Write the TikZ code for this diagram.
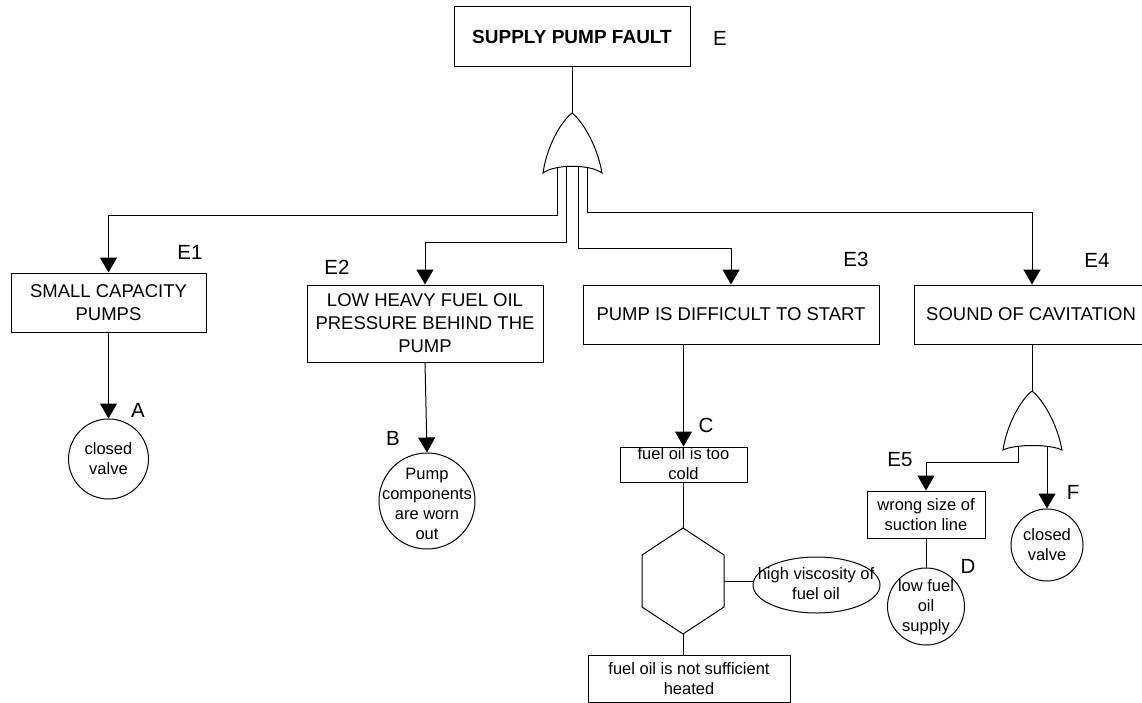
\documentclass[tikz,border=0pt]{standalone}
\usepackage{fontspec}
\setmainfont{Liberation Sans}
\usetikzlibrary{arrows.meta,shapes.geometric}
\begin{document}
\begin{tikzpicture}[x=1pt,y=-1pt, line width=1pt,
  box/.style={draw, rectangle, inner sep=0pt},
  big/.style={font=\fontsize{18.5}{23}\selectfont, align=center, inner sep=0pt},
  small/.style={font=\fontsize{16.5}{20}\selectfont, align=center, inner sep=0pt},
  lab/.style={font=\fontsize{20.5}{24}\selectfont, inner sep=0pt},
  arr/.style={-{Triangle[width=17pt,length=15pt]}},
  ring/.style={draw, circle, inner sep=0pt}]
\clip (0,0) rectangle (1142,703);

% top event
\node[box, minimum width=236pt, minimum height=60pt, font=\bfseries\fontsize{19}{23}\selectfont] (top) at (572,37) {SUPPLY PUMP FAULT};
\node[lab] (lE) at (720,38) {E};

% OR gate 1
\coordinate (g1top) at (572,113);
\draw (g1top) .. controls (565,118) and (548,140) .. (543,173)
  .. controls (555,164) and (590,164) .. (602,173)
  .. controls (596,140) and (579,118) .. (g1top);
\draw (top.south) -- (g1top);
\coordinate (g1a) at (557,167);
\coordinate (g1b) at (566,166.5);
\coordinate (g1c) at (578,166.5);
\coordinate (g1d) at (587,167);

% second-level events
\node[box, big, minimum width=195pt, minimum height=59pt] (e1) at (108.5,302.5) {SMALL CAPACITY\\PUMPS};
\node[lab] (lE1) at (190,252) {E1};
\node[box, big, minimum width=236pt, minimum height=77pt] (e2) at (425,323.5) {LOW HEAVY FUEL OIL\\PRESSURE BEHIND THE\\PUMP};
\node[lab] (lE2) at (337,267) {E2};
\node[box, big, minimum width=296pt, minimum height=59pt] (e3) at (731,314.5) {PUMP IS DIFFICULT TO START};
\node[lab] (lE3) at (856,259) {E3};
\node[box, minimum width=236pt, minimum height=59pt] (e4) at (1032,314.5) {};
\node[big] (e4t) at (1031,314.5) {SOUND OF CAVITATION};
\node[lab] (lE4) at (1097,260) {E4};

\draw[arr] (g1a) -- ++(0,49) -| (e1.north);
\draw[arr] (g1b) -- ++(0,76.5) -| (e2.north);
\draw[arr] (g1c) -- ++(0,82.5) -| (e3.north);
\draw[arr] (g1d) -- ++(0,46) -| (e4.north);

% branch E1
\node[ring, minimum size=80pt] (a) at (108.5,459) {};
\node[small] (at) at (a) {closed\\valve};
\node[lab] (lA) at (138,410) {A};
\draw[arr] (e1.south) -- (a.north);

% branch E2
\node[ring, minimum size=96pt] (b) at (427,501) {};
\node[small] (bt) at (427,504) {Pump\\components\\are worn\\out};
\node[lab] (lB) at (393,438) {B};
\draw[arr] (e2.south) -- (b.north);

% branch E3
\node[box, minimum width=127pt, minimum height=35pt] (c) at (683.5,464.5) {};
\node[small] (ct) at (683.5,464) {fuel oil is too\\cold};
\node[lab] (lC) at (706,425) {C};
\draw[arr] (c.north |- e3.south) -- (c.north);

\coordinate (h1) at (683,528);
\coordinate (h2) at (724,555);
\coordinate (h3) at (724,607);
\coordinate (h4) at (683,634);
\coordinate (h5) at (642,607);
\coordinate (h6) at (642,555);
\coordinate (hr) at (724,581);
\draw (h1) -- (h2) -- (h3) -- (h4) -- (h5) -- (h6) -- cycle;
\draw (c.south -| h1) -- (h1);

\node[draw, ellipse, inner sep=0pt, minimum width=127pt, minimum height=56pt] (ell) at (816.5,585) {};
\node[small] (ellt) at (816,584) {high viscosity of\\fuel oil};
\draw (hr) -- (hr -| ell.west);

\node[box, minimum width=202pt, minimum height=47pt] (bot) at (689,678.5) {};
\node[small] (bott) at (689,679) {fuel oil is not sufficient\\heated};
\draw (h4) -- (h4 |- bot.north);

% branch E4: OR gate 2
\coordinate (g2top) at (1032,391);
\draw (g2top) .. controls (1025,396) and (1008,418) .. (1003,450)
  .. controls (1015,444) and (1050,444) .. (1062,450)
  .. controls (1056,418) and (1039,396) .. (g2top);
\draw (e4.south) -- (g2top);
\coordinate (g2a) at (1018,446.5);
\coordinate (g2b) at (1047,446.5);

\node[box, minimum width=118pt, minimum height=47pt] (e5) at (926,514.5) {};
\node[small] (e5t) at (926,514.5) {wrong size of\\suction line};
\node[lab] (lE5) at (900,460) {E5};
\draw[arr] (g2a) -- ++(0,15.5) -| (e5.north);

\node[ring, minimum size=72pt] (f) at (1047,545) {};
\node[small] (ft) at (f) {closed\\valve};
\node[lab] (lF) at (1073,492) {F};
\draw[arr] (g2b) -- (f.north);

\node[ring, minimum size=77pt] (d) at (926,606.5) {};
\node[small] (dt) at (926,607) {low fuel\\oil\\supply};
\node[lab] (lD) at (968,566) {D};
\draw (e5.south) -- (d.north);
\end{tikzpicture}
\end{document}
